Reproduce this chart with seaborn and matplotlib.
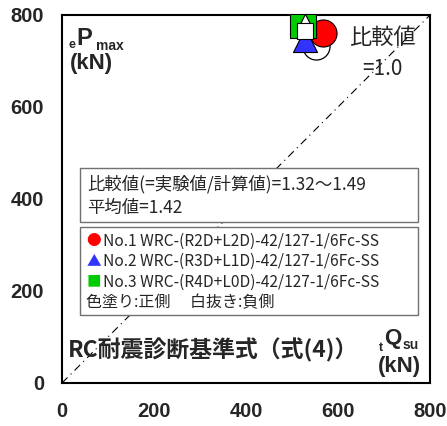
import pandas as pd
import seaborn as sns
import matplotlib.pyplot as plt
from matplotlib.patches import Rectangle

# specimens: calculated tQsu (x) vs. experimental ePmax (y)
specimens = ["No.1 WRC-(R2D+L2D)-42/127-1/6Fc-SS",
             "No.2 WRC-(R3D+L1D)-42/127-1/6Fc-SS",
             "No.3 WRC-(R4D+L0D)-42/127-1/6Fc-SS"]
colors = ["#ff0000", "#3333ff", "#00cc00"]
markers = ["o", "^", "s"]
pos_x = [567, 528, 524]
pos_y = [761, 746, 778]
neg_x = [552, 528, 528]
neg_y = [733, 787, 765]
ticks = [0, 200, 400, 600, 800]
ratio_line = [0, 800]

sns.set_style("white")
plt.rcParams['font.family'] = ['Liberation Sans', 'Noto Sans CJK JP', 'DejaVu Sans']
jp = ['Noto Sans CJK JP', 'DejaVu Sans']
lat = 'Liberation Sans'

fig = plt.figure(figsize=(4.47, 4.26), dpi=100)
ax = fig.add_axes([62 / 447, 43 / 426, 368 / 447, 368 / 426])

sns.lineplot(x=ratio_line, y=ratio_line, ax=ax, color="black", lw=0.8,
             linestyle=(0, (7, 4, 1, 4)), zorder=1)

# open (negative side) circle under filled markers
sns.scatterplot(x=[neg_x[0]], y=[neg_y[0]], ax=ax, marker="o", s=380,
                facecolor="white", edgecolor="black", linewidth=0.9, zorder=3)
sizes = [380, 300, 360]
for i in range(3):
    sns.scatterplot(x=[pos_x[i]], y=[pos_y[i]], ax=ax, marker=markers[i], s=sizes[i],
                    color=colors[i], edgecolor="black", linewidth=0.8, zorder=4 + i)
neg_sizes = [None, 110, 120]
for i in [1, 2]:
    sns.scatterplot(x=[neg_x[i]], y=[neg_y[i]], ax=ax, marker=markers[i], s=neg_sizes[i],
                    color="white", edgecolor="black", linewidth=0.8, zorder=8 + i)

ax.set_xlim(0, 800)
ax.set_ylim(0, 800)
ax.set_xticks(ticks)
ax.set_yticks(ticks)
ax.tick_params(direction="in", length=4, width=1, labelsize=14.5, color="black")
ax.tick_params(axis="x", pad=14)
ax.tick_params(axis="y", pad=13)
for lab in ax.get_xticklabels() + ax.get_yticklabels():
    lab.set_fontweight("bold")
    lab.set_fontfamily(lat)
for sp in ax.spines.values():
    sp.set_color("black")
    sp.set_linewidth(1.5)
ax.set_xlabel("")
ax.set_ylabel("")

# axis titles inside the frame
kw = dict(transform=ax.transAxes, fontweight="bold", va="center", family=lat)
ax.text(0.017, 0.918, "e", fontsize=9, **kw)
ax.text(0.040, 0.935, "P", fontsize=17, **kw)
ax.text(0.092, 0.916, "max", fontsize=10, **kw)
ax.text(0.022, 0.868, "(kN)", fontsize=16, **kw)

ax.text(0.862, 0.096, "t", fontsize=9, **kw)
ax.text(0.876, 0.12, "Q", fontsize=16, **kw)
ax.text(0.925, 0.103, "su", fontsize=10, **kw)
ax.text(0.975, 0.045, "(kN)", fontsize=16, ha="right", **kw)

ax.text(0.015, 0.09, "RC耐震診断基準式（式(4)）", transform=ax.transAxes, fontsize=16.5,
        fontweight="bold", va="center", family=jp, zorder=12)

ax.text(0.87, 0.94, "比較値", transform=ax.transAxes, fontsize=16, va="center", ha="center",
        family=jp)
ax.text(0.87, 0.852, "=1.0", transform=ax.transAxes, fontsize=15, va="center", ha="center",
        family=jp)

# comparison box
ax.add_patch(Rectangle((0.049, 0.4375), 0.918, 0.147, transform=ax.transAxes,
                       facecolor="white", edgecolor="#707070", lw=1, zorder=10))
ax.text(0.068, 0.539, "比較値(=実験値/計算値)=1.32～1.49", transform=ax.transAxes,
        fontsize=12.5, va="center", family=jp, zorder=11)
ax.text(0.068, 0.476, "平均値=1.42", transform=ax.transAxes,
        fontsize=12.5, va="center", family=jp, zorder=11)

# legend box
ax.add_patch(Rectangle((0.049, 0.185), 0.918, 0.239, transform=ax.transAxes,
                       facecolor="white", edgecolor="#707070", lw=1, zorder=10))
glyphs = ["●", "▲", "■"]
rows_y = [0.386, 0.331, 0.273]
for i in range(3):
    ax.text(0.066, rows_y[i], glyphs[i], transform=ax.transAxes, fontsize=10.5, va="center",
            color=colors[i], family=jp, zorder=11)
    ax.text(0.112, rows_y[i], specimens[i], transform=ax.transAxes, fontsize=11.2, va="center",
            family=jp, zorder=11)
ax.text(0.066, 0.217, "色塗り:正側　 白抜き:負側", transform=ax.transAxes, fontsize=11.5,
        va="center", family=jp, zorder=11)

fig.savefig("out.png", dpi=100)
